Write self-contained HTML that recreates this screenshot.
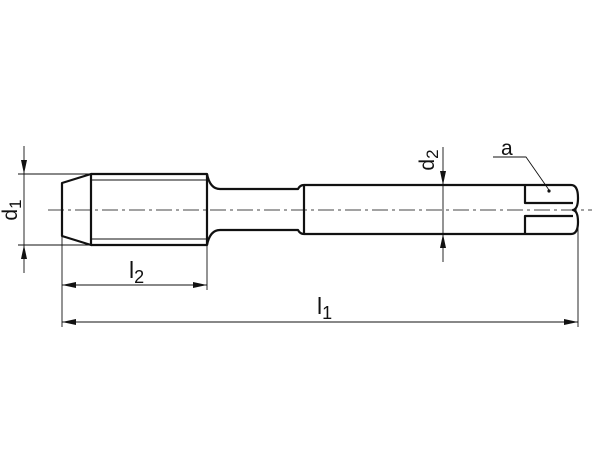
<!DOCTYPE html>
<html><head><meta charset="utf-8"><style>html,body{margin:0;padding:0;background:#fff}svg{display:block}text{font-family:"Liberation Sans",sans-serif;fill:#111}</style></head>
<body>
<svg width="600" height="450" viewBox="0 0 600 450" xmlns="http://www.w3.org/2000/svg">
<g fill="none" stroke="#111" stroke-linejoin="round">
<line x1="48" y1="210" x2="592" y2="210" stroke="#444" stroke-width="0.9" stroke-dasharray="16,4,3,4"/>
<g stroke-width="2.2">
<path d="M91,174 L62,183 L62,236 L91,245 Z"/>
<path d="M91,174 L207,174 Q210,189 220,189 L298,189 Q300,185 304,185 L571,185 Q578,185 578,198 Q578,209 573,210 Q578,211 578,222 Q578,234 571,234 L304,234 Q300,234 298,230 L220,230 Q210,230 207,245 L91,245"/>
<line x1="207" y1="174" x2="207" y2="245"/>
<line x1="304" y1="185" x2="304" y2="234"/>
<path d="M573,203 L525,203 L525,185"/>
<path d="M573,216 L525,216 L525,234"/>
</g>
<g stroke-width="0.9">
<line x1="91" y1="180" x2="207" y2="180"/>
<line x1="91" y1="239" x2="207" y2="239"/>
<line x1="18" y1="174" x2="90" y2="174"/>
<line x1="18" y1="245" x2="90" y2="245"/>
<line x1="24" y1="146" x2="24" y2="273"/>
<line x1="443" y1="147" x2="443" y2="262"/>
<line x1="62" y1="236" x2="62" y2="327"/>
<line x1="207" y1="245" x2="207" y2="290"/>
<line x1="578" y1="215" x2="578" y2="327"/>
<line x1="62" y1="285" x2="207" y2="285"/>
<line x1="62" y1="322" x2="578" y2="322"/>
<polyline points="493,157 526,157 549,190"/>
</g>
</g>
<g fill="#111">
<path d="M24,174 L21,160 L27,160 Z"/>
<path d="M24,245 L21,259 L27,259 Z"/>
<path d="M443,185 L440,171 L446,171 Z"/>
<path d="M443,234 L440,248 L446,248 Z"/>
<path d="M62,285 L76,282 L76,288 Z"/>
<path d="M207,285 L193,282 L193,288 Z"/>
<path d="M62,322 L76,319 L76,325 Z"/>
<path d="M578,322 L564,319 L564,325 Z"/>
<circle cx="549" cy="191" r="1.6"/>
</g>
<text x="17" y="210" font-size="21" transform="rotate(-90 17 210)" text-anchor="middle">d<tspan font-size="17" dy="4">1</tspan></text>
<text x="434" y="160" font-size="21" transform="rotate(-90 434 160)" text-anchor="middle">d<tspan font-size="17" dy="4">2</tspan></text>
<text x="129" y="278" font-size="23">l<tspan font-size="18" dy="5">2</tspan></text>
<text x="317" y="314" font-size="23">l<tspan font-size="18" dy="5">1</tspan></text>
<text x="501" y="155" font-size="21">a</text>
</svg>
</body></html>
